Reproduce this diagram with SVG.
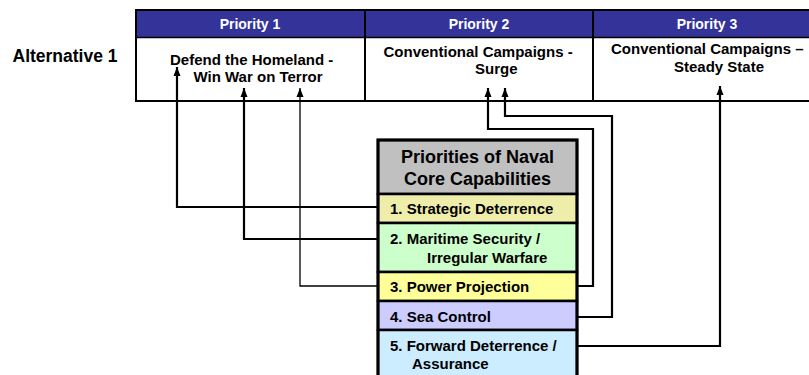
<svg xmlns="http://www.w3.org/2000/svg" width="809" height="375" viewBox="0 0 809 375">
<defs>
<style>
text{font-family:"Liberation Sans",Arial,sans-serif;font-weight:bold;fill:#000}
.hd{font-size:14px;fill:#fff;text-anchor:middle}
.cell{font-size:15px}
.alt{font-size:17.5px}
.ttl{font-size:18px;text-anchor:middle}
.row{font-size:15px}
.conn{fill:none;stroke:#000;stroke-width:2.2}
.thin{stroke-width:1.3}
.rowbox{stroke:#000;stroke-width:2.5}
</style>
<marker id="ah" markerUnits="userSpaceOnUse" markerWidth="10" markerHeight="10" viewBox="0 0 10 10" refX="9" refY="5" orient="auto">
<path d="M0,1.5 L9,5 L0,8.5 Z" fill="#000"/>
</marker>
</defs>
<rect width="809" height="375" fill="#fff"/>

<g id="alt-label"><text class="alt" x="12.5" y="62">Alternative 1</text></g>

<g id="table">
<rect x="136" y="10" width="685" height="27" fill="#333399"/>
<rect x="136" y="10" width="685" height="91" fill="none" stroke="#000" stroke-width="2"/>
<line x1="136" y1="37.5" x2="821" y2="37.5" stroke="#000" stroke-width="1.5"/>
<line x1="365" y1="10" x2="365" y2="101" stroke="#000" stroke-width="2"/>
<line x1="593" y1="10" x2="593" y2="101" stroke="#000" stroke-width="2"/>
</g>

<g id="priority1">
<text class="hd" x="250" y="29">Priority 1</text>
<text class="cell" x="170" y="65">Defend the Homeland -</text>
<text class="cell" x="193.5" y="82">Win War on Terror</text>
</g>
<g id="priority2">
<text class="hd" x="479" y="29">Priority 2</text>
<text class="cell" x="383.5" y="57">Conventional Campaigns -</text>
<text class="cell" x="475" y="74">Surge</text>
</g>
<g id="priority3">
<text class="hd" x="707" y="29">Priority 3</text>
<text class="cell" x="611" y="54">Conventional Campaigns –</text>
<text class="cell" x="674" y="72">Steady State</text>
</g>

<g id="capabilities">
<rect x="378" y="140" width="199" height="54" fill="#C0C0C0" class="rowbox"/>
<text class="ttl" x="477.5" y="163">Priorities of Naval</text>
<text class="ttl" x="477.5" y="185">Core Capabilities</text>
</g>
<g id="cap1">
<rect x="378" y="194" width="199" height="29" fill="#EEEEAA" class="rowbox"/>
<text class="row" x="390" y="214">1. Strategic Deterrence</text>
</g>
<g id="cap2">
<rect x="378" y="223" width="199" height="49" fill="#CCFFCC" class="rowbox"/>
<text class="row" x="390" y="244">2. Maritime Security /</text>
<text class="row" x="427" y="263">Irregular Warfare</text>
</g>
<g id="cap3">
<rect x="378" y="272" width="199" height="29" fill="#FFFF99" class="rowbox"/>
<text class="row" x="390" y="292">3. Power Projection</text>
</g>
<g id="cap4">
<rect x="378" y="301" width="199" height="29" fill="#CCCCFF" class="rowbox"/>
<text class="row" x="390" y="322">4. Sea Control</text>
</g>
<g id="cap5">
<rect x="378" y="330" width="199" height="55" fill="#CCECFF" class="rowbox"/>
<text class="row" x="390" y="351">5. Forward Deterrence /</text>
<text class="row" x="412" y="369">Assurance</text>
</g>
<rect x="378" y="140" width="199" height="245" fill="none" stroke="#000" stroke-width="3"/>

<g id="connectors">
<path class="conn" d="M378,207 H177 V67" marker-end="url(#ah)"/>
<path class="conn" d="M378,239 H244 V88" marker-end="url(#ah)"/>
<path class="conn thin" d="M378,286 H300 V88" marker-end="url(#ah)"/>
<path class="conn" d="M577,286 H593 V129 H488 V88" marker-end="url(#ah)"/>
<path class="conn" d="M577,317 H612 V116 H505 V88" marker-end="url(#ah)"/>
<path class="conn" d="M577,346 H720 V86" marker-end="url(#ah)"/>
</g>
</svg>
